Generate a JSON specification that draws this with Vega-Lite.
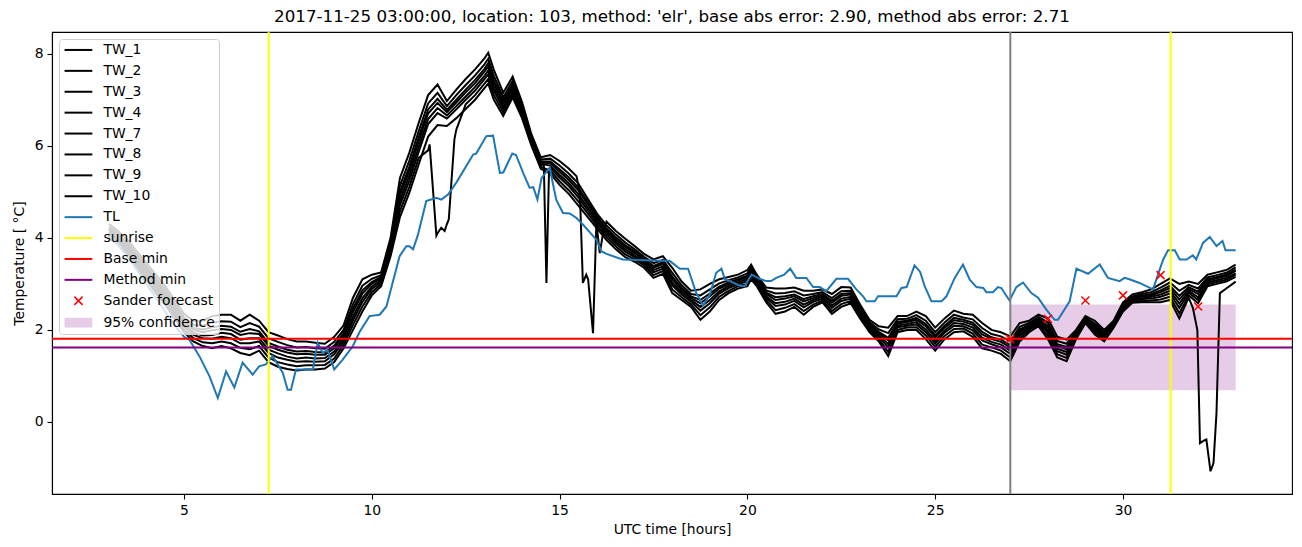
{
"$schema": "https://vega.github.io/schema/vega-lite/v6.json",
"width": 1240, "height": 462,
"autosize": "none",
"padding": {"left": 52, "top": 32, "right": 10, "bottom": 53},
"background": "white",
"title": {"text": "2017-11-25 03:00:00, location: 103, method: 'elr', base abs error: 2.90, method abs error: 2.71", "frame": "group", "anchor": "middle", "fontSize": 16.7, "fontWeight": "normal", "font": "DejaVu Sans", "color": "black", "offset": 5},
"config": {
  "font": "DejaVu Sans",
  "view": {"stroke": "black", "strokeWidth": 1.1},
  "axis": {"grid": false, "domainColor": "black", "domainWidth": 1.1, "tickColor": "black", "tickWidth": 1.1, "tickSize": 5, "labelFontSize": 13.9, "labelColor": "black", "labelFont": "DejaVu Sans", "titleFont": "DejaVu Sans", "titleFontSize": 13.9, "titleFontWeight": "normal", "titleColor": "black", "labelPadding": 4}
},
"datasets": {"lines": [
{"t":3,"TW_1":4.3,"TW_2":4.24,"TW_3":4.2,"TW_4":4.17,"TW_7":4.13,"TW_8":4.09,"TW_9":4.05,"TW_10":4.0},
{"t":3.25,"TW_1":4.15,"TW_2":4.09,"TW_3":4.05,"TW_4":4.02,"TW_7":3.98,"TW_8":3.94,"TW_9":3.9,"TW_10":3.85},
{"t":3.5,"TW_1":3.95,"TW_2":3.88,"TW_3":3.83,"TW_4":3.79,"TW_7":3.75,"TW_8":3.71,"TW_9":3.65,"TW_10":3.6},
{"t":3.75,"TW_1":3.7,"TW_2":3.63,"TW_3":3.58,"TW_4":3.54,"TW_7":3.5,"TW_8":3.46,"TW_9":3.4,"TW_10":3.35},
{"t":4,"TW_1":3.45,"TW_2":3.38,"TW_3":3.33,"TW_4":3.29,"TW_7":3.25,"TW_8":3.21,"TW_9":3.15,"TW_10":3.1},
{"t":4.25,"TW_1":3.2,"TW_2":3.12,"TW_3":3.06,"TW_4":3.02,"TW_7":2.97,"TW_8":2.92,"TW_9":2.86,"TW_10":2.8},
{"t":4.5,"TW_1":2.95,"TW_2":2.87,"TW_3":2.81,"TW_4":2.77,"TW_7":2.72,"TW_8":2.67,"TW_9":2.61,"TW_10":2.55},
{"t":4.75,"TW_1":2.65,"TW_2":2.57,"TW_3":2.51,"TW_4":2.47,"TW_7":2.42,"TW_8":2.37,"TW_9":2.31,"TW_10":2.25},
{"t":5,"TW_1":2.35,"TW_2":2.27,"TW_3":2.21,"TW_4":2.17,"TW_7":2.12,"TW_8":2.07,"TW_9":2.01,"TW_10":1.95},
{"t":5.25,"TW_1":2.2,"TW_2":2.11,"TW_3":2.04,"TW_4":2.0,"TW_7":1.94,"TW_8":1.89,"TW_9":1.82,"TW_10":1.75},
{"t":5.5,"TW_1":2.2,"TW_2":2.09,"TW_3":2.01,"TW_4":1.95,"TW_7":1.88,"TW_8":1.82,"TW_9":1.73,"TW_10":1.65},
{"t":5.75,"TW_1":2.3,"TW_2":2.16,"TW_3":2.06,"TW_4":1.99,"TW_7":1.89,"TW_8":1.81,"TW_9":1.71,"TW_10":1.6},
{"t":6,"TW_1":2.33,"TW_2":2.19,"TW_3":2.09,"TW_4":2.02,"TW_7":1.94,"TW_8":1.85,"TW_9":1.75,"TW_10":1.65},
{"t":6.25,"TW_1":2.33,"TW_2":2.18,"TW_3":2.07,"TW_4":2.0,"TW_7":1.91,"TW_8":1.82,"TW_9":1.71,"TW_10":1.6},
{"t":6.5,"TW_1":2.2,"TW_2":2.06,"TW_3":1.96,"TW_4":1.89,"TW_7":1.79,"TW_8":1.71,"TW_9":1.61,"TW_10":1.5},
{"t":6.75,"TW_1":2.33,"TW_2":2.15,"TW_3":2.02,"TW_4":1.93,"TW_7":1.82,"TW_8":1.71,"TW_9":1.58,"TW_10":1.45},
{"t":7,"TW_1":2.2,"TW_2":2.07,"TW_3":1.97,"TW_4":1.91,"TW_7":1.82,"TW_8":1.75,"TW_9":1.65,"TW_10":1.55},
{"t":7.25,"TW_1":1.95,"TW_2":1.82,"TW_3":1.72,"TW_4":1.66,"TW_7":1.57,"TW_8":1.5,"TW_9":1.4,"TW_10":1.3},
{"t":7.5,"TW_1":1.88,"TW_2":1.74,"TW_3":1.64,"TW_4":1.57,"TW_7":1.49,"TW_8":1.4,"TW_9":1.3,"TW_10":1.2},
{"t":7.75,"TW_1":1.8,"TW_2":1.67,"TW_3":1.57,"TW_4":1.51,"TW_7":1.42,"TW_8":1.35,"TW_9":1.25,"TW_10":1.15},
{"t":8,"TW_1":1.75,"TW_2":1.62,"TW_3":1.53,"TW_4":1.47,"TW_7":1.38,"TW_8":1.31,"TW_9":1.21,"TW_10":1.12},
{"t":8.25,"TW_1":1.75,"TW_2":1.63,"TW_3":1.54,"TW_4":1.48,"TW_7":1.4,"TW_8":1.32,"TW_9":1.23,"TW_10":1.14},
{"t":8.5,"TW_1":1.72,"TW_2":1.6,"TW_3":1.52,"TW_4":1.46,"TW_7":1.38,"TW_8":1.31,"TW_9":1.23,"TW_10":1.14},
{"t":8.75,"TW_1":1.7,"TW_2":1.59,"TW_3":1.51,"TW_4":1.46,"TW_7":1.39,"TW_8":1.32,"TW_9":1.24,"TW_10":1.16},
{"t":9,"TW_1":1.85,"TW_2":1.74,"TW_3":1.66,"TW_4":1.6,"TW_7":1.53,"TW_8":1.47,"TW_9":1.38,"TW_10":1.3},
{"t":9.25,"TW_1":2.1,"TW_2":2.0,"TW_3":1.93,"TW_4":1.88,"TW_7":1.81,"TW_8":1.75,"TW_9":1.68,"TW_10":1.6},
{"t":9.5,"TW_1":2.7,"TW_2":2.56,"TW_3":2.46,"TW_4":2.39,"TW_7":2.29,"TW_8":2.21,"TW_9":2.11,"TW_10":2.0},
{"t":9.75,"TW_1":3.1,"TW_2":2.96,"TW_3":2.86,"TW_4":2.79,"TW_7":2.69,"TW_8":2.61,"TW_9":2.51,"TW_10":2.4},
{"t":10,"TW_1":3.2,"TW_2":3.11,"TW_3":3.04,"TW_4":3.0,"TW_7":2.94,"TW_8":2.89,"TW_9":2.82,"TW_10":2.75},
{"t":10.25,"TW_1":3.25,"TW_2":3.19,"TW_3":3.15,"TW_4":3.12,"TW_7":3.08,"TW_8":3.04,"TW_9":3.0,"TW_10":2.95},
{"t":10.5,"TW_1":4.0,"TW_2":3.92,"TW_3":3.86,"TW_4":3.82,"TW_7":3.77,"TW_8":3.72,"TW_9":3.66,"TW_10":3.6},
{"t":10.75,"TW_1":5.3,"TW_2":5.13,"TW_3":5.0,"TW_4":4.92,"TW_7":4.81,"TW_8":4.71,"TW_9":4.58,"TW_10":4.45},
{"t":11,"TW_1":5.85,"TW_2":5.68,"TW_3":5.55,"TW_4":5.46,"TW_7":5.35,"TW_8":5.24,"TW_9":5.11,"TW_10":4.98},
{"t":11.25,"TW_1":6.5,"TW_2":6.32,"TW_3":6.19,"TW_4":6.1,"TW_7":5.98,"TW_8":5.87,"TW_9":5.74,"TW_10":5.6},
{"t":11.5,"TW_1":7.1,"TW_2":6.92,"TW_3":6.79,"TW_4":6.7,"TW_7":6.58,"TW_8":6.47,"TW_9":5.9,"TW_10":6.2},
{"t":11.54,"TW_9":6.03},
{"t":11.72,"TW_9":4.05},
{"t":11.75,"TW_1":7.33,"TW_2":7.15,"TW_3":7.02,"TW_4":6.93,"TW_7":6.82,"TW_8":6.71,"TW_9":4.1,"TW_10":6.45},
{"t":11.85,"TW_9":4.22},
{"t":11.94,"TW_9":4.15},
{"t":12,"TW_1":6.97,"TW_2":6.86,"TW_3":6.78,"TW_4":6.73,"TW_7":6.66,"TW_8":6.59,"TW_9":4.3,"TW_10":6.43},
{"t":12.05,"TW_9":4.4},
{"t":12.2,"TW_9":6.14},
{"t":12.25,"TW_1":7.22,"TW_2":7.1,"TW_3":7.0,"TW_4":6.94,"TW_7":6.86,"TW_8":6.79,"TW_9":6.35,"TW_10":6.6},
{"t":12.5,"TW_1":7.45,"TW_2":7.32,"TW_3":7.22,"TW_4":7.16,"TW_7":7.07,"TW_8":7.0,"TW_9":6.9,"TW_10":6.8},
{"t":12.75,"TW_1":7.66,"TW_2":7.53,"TW_3":7.43,"TW_4":7.36,"TW_7":7.28,"TW_8":7.2,"TW_9":7.1,"TW_10":7.0},
{"t":13,"TW_1":7.9,"TW_2":7.77,"TW_3":7.67,"TW_4":7.61,"TW_7":7.52,"TW_8":7.45,"TW_9":7.35,"TW_10":7.25},
{"t":13.1,"TW_1":8.02,"TW_2":7.89,"TW_3":7.79,"TW_4":7.72,"TW_7":7.63,"TW_8":7.55,"TW_9":7.45,"TW_10":7.35},
{"t":13.25,"TW_1":7.65,"TW_2":7.52,"TW_3":7.42,"TW_4":7.36,"TW_7":7.27,"TW_8":7.2,"TW_9":7.1,"TW_10":7.0},
{"t":13.5,"TW_1":7.15,"TW_2":7.05,"TW_3":6.98,"TW_4":6.93,"TW_7":6.86,"TW_8":6.8,"TW_9":6.73,"TW_10":6.65},
{"t":13.75,"TW_1":7.5,"TW_2":7.41,"TW_3":7.34,"TW_4":7.3,"TW_7":7.24,"TW_8":7.19,"TW_9":7.12,"TW_10":7.05},
{"t":14,"TW_1":6.95,"TW_2":6.88,"TW_3":6.83,"TW_4":6.79,"TW_7":6.75,"TW_8":6.71,"TW_9":6.65,"TW_10":6.6},
{"t":14.25,"TW_1":6.25,"TW_2":6.2,"TW_3":6.16,"TW_4":6.14,"TW_7":6.11,"TW_8":6.08,"TW_9":6.04,"TW_10":6.0},
{"t":14.5,"TW_1":5.75,"TW_2":5.7,"TW_3":5.66,"TW_4":5.64,"TW_7":5.61,"TW_8":5.58,"TW_9":5.54,"TW_10":5.5},
{"t":14.58,"TW_8":5.6},
{"t":14.65,"TW_8":3.02},
{"t":14.72,"TW_8":5.5},
{"t":14.75,"TW_1":5.8,"TW_2":5.72,"TW_3":5.66,"TW_4":5.62,"TW_7":5.57,"TW_8":5.52,"TW_9":5.46,"TW_10":5.4},
{"t":15,"TW_1":5.67,"TW_2":5.57,"TW_3":5.49,"TW_4":5.44,"TW_7":5.37,"TW_8":5.31,"TW_9":5.23,"TW_10":5.15},
{"t":15.25,"TW_1":5.5,"TW_2":5.39,"TW_3":5.31,"TW_4":5.25,"TW_7":5.18,"TW_8":5.12,"TW_9":5.03,"TW_10":4.95},
{"t":15.45,"TW_1":5.34},
{"t":15.5,"TW_2":5.18,"TW_3":5.09,"TW_4":5.03,"TW_7":4.95,"TW_8":4.88,"TW_9":4.79,"TW_10":4.7},
{"t":15.54,"TW_1":4.98},
{"t":15.62,"TW_1":3.02},
{"t":15.71,"TW_1":3.2},
{"t":15.75,"TW_2":4.85,"TW_3":4.78,"TW_4":4.73,"TW_7":4.66,"TW_8":4.6,"TW_9":4.53,"TW_10":4.45},
{"t":15.76,"TW_1":3.1},
{"t":15.89,"TW_1":1.93},
{"t":15.98,"TW_1":4.33},
{"t":16,"TW_2":4.52,"TW_3":4.46,"TW_4":4.42,"TW_7":4.37,"TW_8":4.32,"TW_9":4.26,"TW_10":4.2},
{"t":16.07,"TW_1":3.67},
{"t":16.16,"TW_1":4.11},
{"t":16.25,"TW_1":4.35,"TW_2":4.27,"TW_3":4.21,"TW_4":4.17,"TW_7":4.12,"TW_8":4.07,"TW_9":4.01,"TW_10":3.95},
{"t":16.5,"TW_1":4.15,"TW_2":4.07,"TW_3":4.01,"TW_4":3.97,"TW_7":3.92,"TW_8":3.87,"TW_9":3.81,"TW_10":3.75},
{"t":16.75,"TW_1":3.98,"TW_2":3.9,"TW_3":3.84,"TW_4":3.8,"TW_7":3.75,"TW_8":3.7,"TW_9":3.64,"TW_10":3.58},
{"t":17,"TW_1":3.82,"TW_2":3.75,"TW_3":3.7,"TW_4":3.67,"TW_7":3.62,"TW_8":3.58,"TW_9":3.53,"TW_10":3.48},
{"t":17.25,"TW_1":3.65,"TW_2":3.59,"TW_3":3.55,"TW_4":3.52,"TW_7":3.48,"TW_8":3.44,"TW_9":3.4,"TW_10":3.35},
{"t":17.5,"TW_1":3.53,"TW_2":3.45,"TW_3":3.39,"TW_4":3.35,"TW_7":3.3,"TW_8":3.25,"TW_9":3.19,"TW_10":3.13},
{"t":17.75,"TW_1":3.6,"TW_2":3.52,"TW_3":3.47,"TW_4":3.43,"TW_7":3.38,"TW_8":3.33,"TW_9":3.28,"TW_10":3.22},
{"t":18,"TW_1":3.35,"TW_2":3.24,"TW_3":3.16,"TW_4":3.1,"TW_7":3.03,"TW_8":2.97,"TW_9":2.88,"TW_10":2.8},
{"t":18.25,"TW_1":3.05,"TW_2":2.97,"TW_3":2.91,"TW_4":2.87,"TW_7":2.82,"TW_8":2.77,"TW_9":2.71,"TW_10":2.65},
{"t":18.5,"TW_1":2.85,"TW_2":2.78,"TW_3":2.73,"TW_4":2.69,"TW_7":2.65,"TW_8":2.61,"TW_9":2.55,"TW_10":2.5},
{"t":18.75,"TW_1":2.88,"TW_2":2.75,"TW_3":2.65,"TW_4":2.58,"TW_7":2.5,"TW_8":2.42,"TW_9":2.32,"TW_10":2.22},
{"t":19,"TW_1":3.0,"TW_2":2.88,"TW_3":2.79,"TW_4":2.73,"TW_7":2.65,"TW_8":2.58,"TW_9":2.49,"TW_10":2.4},
{"t":19.25,"TW_1":3.1,"TW_2":3.01,"TW_3":2.94,"TW_4":2.9,"TW_7":2.84,"TW_8":2.79,"TW_9":2.72,"TW_10":2.65},
{"t":19.5,"TW_1":3.15,"TW_2":3.08,"TW_3":3.03,"TW_4":2.99,"TW_7":2.95,"TW_8":2.91,"TW_9":2.85,"TW_10":2.8},
{"t":19.75,"TW_1":3.2,"TW_2":3.14,"TW_3":3.1,"TW_4":3.07,"TW_7":3.03,"TW_8":2.99,"TW_9":2.95,"TW_10":2.9},
{"t":20,"TW_1":3.3,"TW_2":3.23,"TW_3":3.18,"TW_4":3.14,"TW_7":3.1,"TW_8":3.06,"TW_9":3.0,"TW_10":2.95},
{"t":20.1,"TW_1":3.42,"TW_2":3.36,"TW_3":3.31,"TW_4":3.28,"TW_7":3.23,"TW_8":3.2,"TW_9":3.15,"TW_10":3.1},
{"t":20.25,"TW_1":3.2,"TW_2":3.15,"TW_3":3.11,"TW_4":3.09,"TW_7":3.06,"TW_8":3.03,"TW_9":2.99,"TW_10":2.95},
{"t":20.5,"TW_1":2.92,"TW_2":2.86,"TW_3":2.81,"TW_4":2.78,"TW_7":2.73,"TW_8":2.7,"TW_9":2.65,"TW_10":2.6},
{"t":20.75,"TW_1":2.9,"TW_2":2.79,"TW_3":2.71,"TW_4":2.65,"TW_7":2.58,"TW_8":2.52,"TW_9":2.43,"TW_10":2.35},
{"t":21,"TW_1":2.9,"TW_2":2.8,"TW_3":2.73,"TW_4":2.68,"TW_7":2.61,"TW_8":2.55,"TW_9":2.48,"TW_10":2.4},
{"t":21.25,"TW_1":2.92,"TW_2":2.84,"TW_3":2.77,"TW_4":2.73,"TW_7":2.68,"TW_8":2.63,"TW_9":2.56,"TW_10":2.5},
{"t":21.5,"TW_1":2.85,"TW_2":2.75,"TW_3":2.67,"TW_4":2.62,"TW_7":2.55,"TW_8":2.49,"TW_9":2.41,"TW_10":2.33},
{"t":21.75,"TW_1":2.85,"TW_2":2.78,"TW_3":2.73,"TW_4":2.69,"TW_7":2.65,"TW_8":2.61,"TW_9":2.55,"TW_10":2.5},
{"t":22,"TW_1":2.88,"TW_2":2.82,"TW_3":2.78,"TW_4":2.75,"TW_7":2.72,"TW_8":2.68,"TW_9":2.64,"TW_10":2.6},
{"t":22.25,"TW_1":2.78,"TW_2":2.69,"TW_3":2.63,"TW_4":2.59,"TW_7":2.53,"TW_8":2.48,"TW_9":2.41,"TW_10":2.35},
{"t":22.5,"TW_1":2.93,"TW_2":2.84,"TW_3":2.78,"TW_4":2.74,"TW_7":2.68,"TW_8":2.63,"TW_9":2.56,"TW_10":2.5},
{"t":22.75,"TW_1":2.92,"TW_2":2.85,"TW_3":2.8,"TW_4":2.77,"TW_7":2.72,"TW_8":2.68,"TW_9":2.63,"TW_10":2.58},
{"t":23,"TW_1":2.55,"TW_2":2.49,"TW_3":2.45,"TW_4":2.42,"TW_7":2.38,"TW_8":2.34,"TW_9":2.3,"TW_10":2.25},
{"t":23.25,"TW_1":2.22,"TW_2":2.17,"TW_3":2.13,"TW_4":2.1,"TW_7":2.06,"TW_8":2.03,"TW_9":1.99,"TW_10":1.95},
{"t":23.5,"TW_1":2.08,"TW_2":2.01,"TW_3":1.96,"TW_4":1.93,"TW_7":1.89,"TW_8":1.85,"TW_9":1.8,"TW_10":1.75},
{"t":23.75,"TW_1":2.05,"TW_2":1.93,"TW_3":1.83,"TW_4":1.77,"TW_7":1.69,"TW_8":1.62,"TW_9":1.52,"TW_10":1.43},
{"t":24,"TW_1":2.3,"TW_2":2.23,"TW_3":2.18,"TW_4":2.14,"TW_7":2.1,"TW_8":2.06,"TW_9":2.0,"TW_10":1.95},
{"t":24.25,"TW_1":2.3,"TW_2":2.24,"TW_3":2.2,"TW_4":2.17,"TW_7":2.13,"TW_8":2.09,"TW_9":2.05,"TW_10":2.0},
{"t":24.5,"TW_1":2.4,"TW_2":2.32,"TW_3":2.26,"TW_4":2.22,"TW_7":2.17,"TW_8":2.12,"TW_9":2.06,"TW_10":2.0},
{"t":24.75,"TW_1":2.3,"TW_2":2.2,"TW_3":2.13,"TW_4":2.08,"TW_7":2.01,"TW_8":1.95,"TW_9":1.88,"TW_10":1.8},
{"t":25,"TW_1":2.05,"TW_2":1.95,"TW_3":1.88,"TW_4":1.83,"TW_7":1.76,"TW_8":1.7,"TW_9":1.63,"TW_10":1.55},
{"t":25.25,"TW_1":2.25,"TW_2":2.16,"TW_3":2.09,"TW_4":2.05,"TW_7":1.99,"TW_8":1.94,"TW_9":1.87,"TW_10":1.8},
{"t":25.5,"TW_1":2.42,"TW_2":2.33,"TW_3":2.26,"TW_4":2.21,"TW_7":2.15,"TW_8":2.09,"TW_9":2.02,"TW_10":1.95},
{"t":25.75,"TW_1":2.35,"TW_2":2.27,"TW_3":2.22,"TW_4":2.18,"TW_7":2.13,"TW_8":2.08,"TW_9":2.03,"TW_10":1.97},
{"t":26,"TW_1":2.33,"TW_2":2.23,"TW_3":2.16,"TW_4":2.11,"TW_7":2.05,"TW_8":1.99,"TW_9":1.92,"TW_10":1.85},
{"t":26.25,"TW_1":2.15,"TW_2":2.04,"TW_3":1.96,"TW_4":1.9,"TW_7":1.83,"TW_8":1.77,"TW_9":1.68,"TW_10":1.6},
{"t":26.5,"TW_1":2.0,"TW_2":1.91,"TW_3":1.84,"TW_4":1.8,"TW_7":1.74,"TW_8":1.69,"TW_9":1.62,"TW_10":1.55},
{"t":26.75,"TW_1":1.95,"TW_2":1.86,"TW_3":1.79,"TW_4":1.74,"TW_7":1.68,"TW_8":1.62,"TW_9":1.55,"TW_10":1.48},
{"t":27,"TW_1":1.86,"TW_2":1.75,"TW_3":1.67,"TW_4":1.62,"TW_7":1.55,"TW_8":1.48,"TW_9":1.4,"TW_10":1.32},
{"t":27.25,"TW_1":2.15,"TW_2":2.07,"TW_3":2.01,"TW_4":1.97,"TW_7":1.92,"TW_8":1.87,"TW_9":1.81,"TW_10":1.75},
{"t":27.5,"TW_1":2.2,"TW_2":2.15,"TW_3":2.11,"TW_4":2.09,"TW_7":2.06,"TW_8":2.03,"TW_9":1.99,"TW_10":1.95},
{"t":27.75,"TW_1":2.33,"TW_2":2.28,"TW_3":2.24,"TW_4":2.22,"TW_7":2.19,"TW_8":2.16,"TW_9":2.12,"TW_10":2.08},
{"t":28,"TW_1":2.25,"TW_2":2.16,"TW_3":2.09,"TW_4":2.05,"TW_7":1.99,"TW_8":1.94,"TW_9":1.87,"TW_10":1.8},
{"t":28.25,"TW_1":1.85,"TW_2":1.76,"TW_3":1.69,"TW_4":1.65,"TW_7":1.59,"TW_8":1.54,"TW_9":1.47,"TW_10":1.4},
{"t":28.5,"TW_1":1.79,"TW_2":1.7,"TW_3":1.63,"TW_4":1.58,"TW_7":1.52,"TW_8":1.46,"TW_9":1.39,"TW_10":1.32},
{"t":28.75,"TW_1":2.0,"TW_2":1.96,"TW_3":1.93,"TW_4":1.91,"TW_7":1.88,"TW_8":1.86,"TW_9":1.83,"TW_10":1.8},
{"t":29,"TW_1":2.3,"TW_2":2.27,"TW_3":2.25,"TW_4":2.23,"TW_7":2.21,"TW_8":2.2,"TW_9":2.17,"TW_10":2.15},
{"t":29.25,"TW_1":2.2,"TW_2":2.14,"TW_3":2.1,"TW_4":2.07,"TW_7":2.03,"TW_8":1.99,"TW_9":1.95,"TW_10":1.9},
{"t":29.5,"TW_1":2.0,"TW_2":1.95,"TW_3":1.91,"TW_4":1.89,"TW_7":1.86,"TW_8":1.83,"TW_9":1.79,"TW_10":1.75},
{"t":29.75,"TW_1":2.2,"TW_2":2.17,"TW_3":2.15,"TW_4":2.13,"TW_7":2.11,"TW_8":2.1,"TW_9":2.07,"TW_10":2.05},
{"t":30,"TW_1":2.6,"TW_2":2.56,"TW_3":2.53,"TW_4":2.51,"TW_7":2.48,"TW_8":2.46,"TW_9":2.43,"TW_10":2.4},
{"t":30.25,"TW_1":2.77,"TW_2":2.73,"TW_3":2.71,"TW_4":2.69,"TW_7":2.67,"TW_8":2.64,"TW_9":2.62,"TW_10":2.59},
{"t":30.5,"TW_1":2.82,"TW_2":2.78,"TW_3":2.74,"TW_4":2.72,"TW_7":2.69,"TW_8":2.67,"TW_9":2.63,"TW_10":2.6},
{"t":30.75,"TW_1":2.88,"TW_2":2.82,"TW_3":2.78,"TW_4":2.75,"TW_7":2.72,"TW_8":2.68,"TW_9":2.64,"TW_10":2.6},
{"t":31,"TW_1":3.0,"TW_2":2.92,"TW_3":2.86,"TW_4":2.82,"TW_7":2.77,"TW_8":2.72,"TW_9":2.66,"TW_10":2.6},
{"t":31.25,"TW_1":3.12,"TW_2":3.03,"TW_3":2.96,"TW_4":2.91,"TW_7":2.85,"TW_8":2.79,"TW_9":2.72,"TW_10":2.65},
{"t":31.5,"TW_1":3.0,"TW_2":2.85,"TW_3":2.74,"TW_4":2.66,"TW_7":2.57,"TW_8":2.48,"TW_9":2.36,"TW_10":2.25},
{"t":31.75,"TW_1":3.05,"TW_2":2.98,"TW_3":2.93,"TW_4":2.89,"TW_7":2.85,"TW_8":2.81,"TW_9":2.75,"TW_10":2.7},
{"t":31.86,"TW_10":2.48},
{"t":31.98,"TW_10":2.0},
{"t":32,"TW_1":3.0,"TW_2":2.9,"TW_3":2.83,"TW_4":2.78,"TW_7":2.71,"TW_8":2.65,"TW_9":2.58},
{"t":32.05,"TW_10":-0.46},
{"t":32.14,"TW_10":-0.41},
{"t":32.22,"TW_10":-0.38},
{"t":32.25,"TW_1":3.2,"TW_2":3.14,"TW_3":3.1,"TW_4":3.07,"TW_7":3.03,"TW_8":2.99,"TW_9":2.95},
{"t":32.33,"TW_10":-1.07},
{"t":32.41,"TW_10":-0.89},
{"t":32.49,"TW_10":0.2},
{"t":32.5,"TW_1":3.25,"TW_2":3.19,"TW_3":3.15,"TW_4":3.12,"TW_7":3.08,"TW_8":3.04,"TW_9":3.0},
{"t":32.58,"TW_10":2.8},
{"t":32.75,"TW_1":3.3,"TW_2":3.24,"TW_3":3.2,"TW_4":3.17,"TW_7":3.13,"TW_8":3.09,"TW_9":3.05,"TW_10":2.9},
{"t":33,"TW_1":3.42,"TW_2":3.36,"TW_3":3.31,"TW_4":3.28,"TW_7":3.23,"TW_8":3.2,"TW_9":3.15,"TW_10":3.05},
{"t":3,"TL":4.05},{"t":3.25,"TL":3.85},{"t":3.5,"TL":3.6},{"t":3.75,"TL":3.3},{"t":4,"TL":3.0},{"t":4.25,"TL":2.7},{"t":4.5,"TL":2.4},{"t":4.75,"TL":2.1},{"t":5,"TL":1.85},{"t":5.14,"TL":1.79},{"t":5.41,"TL":1.43},{"t":5.68,"TL":0.99},{"t":5.9,"TL":0.52},{"t":6.12,"TL":1.1},{"t":6.34,"TL":0.75},{"t":6.56,"TL":1.29},{"t":6.83,"TL":1.03},{"t":7.0,"TL":1.21},{"t":7.18,"TL":1.25},{"t":7.36,"TL":1.43},{"t":7.63,"TL":1.07},{"t":7.76,"TL":0.7},{"t":7.85,"TL":0.7},{"t":7.98,"TL":1.14},{"t":8.43,"TL":1.14},{"t":8.56,"TL":1.72},{"t":8.69,"TL":1.5},{"t":8.82,"TL":1.57},{"t":9.0,"TL":1.14},{"t":9.22,"TL":1.35},{"t":9.49,"TL":1.64},{"t":9.67,"TL":1.95},{"t":9.94,"TL":2.3},{"t":10.21,"TL":2.33},{"t":10.39,"TL":2.51},{"t":10.74,"TL":3.6},{"t":10.92,"TL":3.82},{"t":11.0,"TL":3.82},{"t":11.1,"TL":3.75},{"t":11.23,"TL":4.07},{"t":11.45,"TL":4.8},{"t":11.72,"TL":4.87},{"t":11.85,"TL":4.83},{"t":12.03,"TL":4.94},{"t":12.25,"TL":5.2},{"t":12.7,"TL":5.81},{"t":12.78,"TL":5.83},{"t":13.05,"TL":6.21},{"t":13.23,"TL":6.22},{"t":13.41,"TL":5.41},{"t":13.5,"TL":5.42},{"t":13.74,"TL":5.83},{"t":13.84,"TL":5.8},{"t":14.03,"TL":5.41},{"t":14.2,"TL":5.09},{"t":14.3,"TL":5.1},{"t":14.41,"TL":4.83},{"t":14.52,"TL":5.3},{"t":14.74,"TL":5.52},{"t":14.78,"TL":5.35},{"t":14.91,"TL":4.83},{"t":15.09,"TL":4.54},{"t":15.27,"TL":4.53},{"t":15.45,"TL":4.43},{"t":15.62,"TL":4.29},{"t":15.98,"TL":3.96},{"t":16.11,"TL":3.71},{"t":16.25,"TL":3.65},{"t":16.6,"TL":3.55},{"t":16.69,"TL":3.53},{"t":17.66,"TL":3.5},{"t":17.93,"TL":3.5},{"t":18.2,"TL":3.33},{"t":18.42,"TL":3.33},{"t":18.64,"TL":2.8},{"t":18.82,"TL":2.53},{"t":19.0,"TL":2.77},{"t":19.17,"TL":3.24},{"t":19.31,"TL":3.33},{"t":19.4,"TL":3.1},{"t":19.53,"TL":3.06},{"t":19.8,"TL":2.96},{"t":19.93,"TL":2.95},{"t":20.11,"TL":3.2},{"t":20.3,"TL":3.12},{"t":20.5,"TL":3.06},{"t":20.63,"TL":3.06},{"t":20.77,"TL":3.13},{"t":20.98,"TL":3.2},{"t":21.14,"TL":3.33},{"t":21.3,"TL":3.13},{"t":21.57,"TL":3.13},{"t":21.75,"TL":2.93},{"t":21.93,"TL":2.93},{"t":22.1,"TL":2.84},{"t":22.37,"TL":3.11},{"t":22.68,"TL":3.11},{"t":22.9,"TL":2.88},{"t":23.08,"TL":2.73},{"t":23.17,"TL":2.62},{"t":23.39,"TL":2.62},{"t":23.48,"TL":2.73},{"t":23.97,"TL":2.73},{"t":24.1,"TL":2.91},{"t":24.24,"TL":2.93},{"t":24.45,"TL":3.4},{"t":24.6,"TL":3.26},{"t":24.72,"TL":2.95},{"t":24.9,"TL":2.62},{"t":25.17,"TL":2.62},{"t":25.3,"TL":2.73},{"t":25.52,"TL":3.13},{"t":25.74,"TL":3.42},{"t":25.92,"TL":3.09},{"t":26.1,"TL":2.93},{"t":26.28,"TL":2.91},{"t":26.36,"TL":2.82},{"t":26.54,"TL":2.82},{"t":26.67,"TL":2.93},{"t":26.76,"TL":2.91},{"t":26.98,"TL":2.64},{"t":27.16,"TL":2.93},{"t":27.34,"TL":3.03},{"t":27.56,"TL":2.8},{"t":27.74,"TL":2.7},{"t":27.96,"TL":2.44},{"t":28.18,"TL":2.22},{"t":28.27,"TL":2.22},{"t":28.58,"TL":2.62},{"t":28.76,"TL":3.33},{"t":29.07,"TL":3.22},{"t":29.38,"TL":3.42},{"t":29.6,"TL":3.13},{"t":29.91,"TL":3.06},{"t":30.04,"TL":3.13},{"t":30.17,"TL":3.1},{"t":30.44,"TL":3.02},{"t":30.8,"TL":2.88},{"t":31.07,"TL":3.53},{"t":31.2,"TL":3.73},{"t":31.38,"TL":3.73},{"t":31.51,"TL":3.53},{"t":31.69,"TL":3.53},{"t":31.86,"TL":3.62},{"t":31.95,"TL":3.53},{"t":32.13,"TL":3.89},{"t":32.31,"TL":4.02},{"t":32.49,"TL":3.82},{"t":32.65,"TL":3.93},{"t":32.73,"TL":3.73},{"t":33.0,"TL":3.73}
]},
"layer": [
  {
    "data": {"values": [{"t0": 27, "t1": 33, "lo": 0.687, "hi": 2.55}]},
    "mark": {"type": "rect", "color": "purple", "opacity": 0.2},
    "encoding": {
      "x": {"field": "t0", "type": "quantitative", "scale": {"domain": [1.486, 34.5], "nice": false, "zero": false}, "axis": {"values": [5, 10, 15, 20, 25, 30], "title": "UTC time [hours]", "titlePadding": 6}},
      "x2": {"field": "t1"},
      "y": {"field": "lo", "type": "quantitative", "scale": {"domain": [-1.564, 8.471], "nice": false, "zero": false}, "axis": {"values": [0, 2, 4, 6, 8], "title": "Temperature [ °C]", "titlePadding": 8}},
      "y2": {"field": "hi"}
    }
  },
  {
    "data": {"name": "lines"},
    "transform": [
      {"fold": ["TW_1", "TW_2", "TW_3", "TW_4", "TW_7", "TW_8", "TW_9", "TW_10", "TL"], "as": ["series", "v"]},
      {"filter": "isValid(datum.v)"},
      {"filter": "datum.series !== 'TL'"}
    ],
    "mark": {"type": "line", "strokeWidth": 2},
    "encoding": {
      "x": {"field": "t", "type": "quantitative"},
      "y": {"field": "v", "type": "quantitative"},
      "color": {
        "field": "series", "type": "nominal",
        "scale": {
          "domain": ["TW_1", "TW_2", "TW_3", "TW_4", "TW_7", "TW_8", "TW_9", "TW_10", "TL", "sunrise", "Base min", "Method min", "Sander forecast", "95% confidence"],
          "range": ["#000000", "#000000", "#000000", "#000000", "#000000", "#000000", "#000000", "#000000", "#1f77b4", "#ffff00", "#ff0000", "#800080", "#ff0000", "#800080"]
        },
        "legend": {
          "title": null,
          "orient": "top-left",
          "direction": "vertical",
          "offset": 7,
          "padding": 4,
          "fillColor": "rgba(255,255,255,0.8)",
          "strokeColor": "#d0d0d0",
          "cornerRadius": 3,
          "symbolSize": 225,
          "symbolType": "M-1.85,0H1.85",
          "symbolOffset": 8.5,
          "labelOffset": 18,
          "rowPadding": 5.9,
          "labelFontSize": 13.9,
          "labelFont": "DejaVu Sans",
          "labelColor": "black",
          "labelLimit": 300,
          "encode": {
            "symbols": {
              "update": {
                "shape": {"signal": "datum.value === 'Sander forecast' ? 'M-0.55,-0.55L0.55,0.55M-0.55,0.55L0.55,-0.55' : datum.value === '95% confidence' ? 'M-1.85,-0.65H1.85V0.65H-1.85Z' : 'M-1.85,0H1.85'"},
                "stroke": {"signal": "datum.value === 'TL' ? '#1f77b4' : datum.value === 'sunrise' ? '#ffff00' : (datum.value === 'Base min' || datum.value === 'Sander forecast') ? '#ff0000' : datum.value === 'Method min' ? '#800080' : datum.value === '95% confidence' ? 'rgba(128,0,128,0.2)' : '#000000'"},
                "fill": {"signal": "datum.value === '95% confidence' ? 'rgba(128,0,128,0.2)' : 'transparent'"},
                "strokeWidth": {"signal": "datum.value === 'Sander forecast' ? 1.5 : datum.value === '95% confidence' ? 0 : 2"},
                "strokeOpacity": {"signal": "datum.value === '95% confidence' ? 0 : 1"},
                "opacity": {"value": 1}
              }
            }
          }
        }
      }
    }
  },
  {
    "data": {"name": "lines"},
    "transform": [
      {"fold": ["TW_1", "TW_2", "TW_3", "TW_4", "TW_7", "TW_8", "TW_9", "TW_10", "TL"], "as": ["series", "v"]},
      {"filter": "isValid(datum.v)"},
      {"filter": "datum.series === 'TL'"}
    ],
    "mark": {"type": "line", "strokeWidth": 2},
    "encoding": {
      "x": {"field": "t", "type": "quantitative"},
      "y": {"field": "v", "type": "quantitative"},
      "color": {"field": "series", "type": "nominal"}
    }
  },
  {
    "data": {"values": [{"t": 27}]},
    "mark": {"type": "rule", "color": "#808080", "strokeWidth": 2},
    "encoding": {"x": {"field": "t", "type": "quantitative"}}
  },
  {
    "data": {"values": [{"t": 7.255}, {"t": 31.27}]},
    "mark": {"type": "rule", "color": "#ffff00", "strokeWidth": 2},
    "encoding": {"x": {"field": "t", "type": "quantitative"}}
  },
  {
    "data": {"values": [{"y": 1.81}]},
    "mark": {"type": "rule", "color": "#ff0000", "strokeWidth": 2},
    "encoding": {"y": {"field": "y", "type": "quantitative"}}
  },
  {
    "data": {"values": [{"y": 1.62}]},
    "mark": {"type": "rule", "color": "#800080", "strokeWidth": 2},
    "encoding": {"y": {"field": "y", "type": "quantitative"}}
  },
  {
    "data": {"values": [{"t": 27, "v": 1.8}, {"t": 28, "v": 2.24}, {"t": 29, "v": 2.64}, {"t": 30, "v": 2.75}, {"t": 31, "v": 3.19}, {"t": 32, "v": 2.51}]},
    "mark": {"type": "point", "shape": "M-1,-1L1,1M-1,1L1,-1", "size": 64, "stroke": "#ff0000", "strokeWidth": 1.5, "filled": false, "opacity": 1},
    "encoding": {"x": {"field": "t", "type": "quantitative"}, "y": {"field": "v", "type": "quantitative"}}
  }
]
}
